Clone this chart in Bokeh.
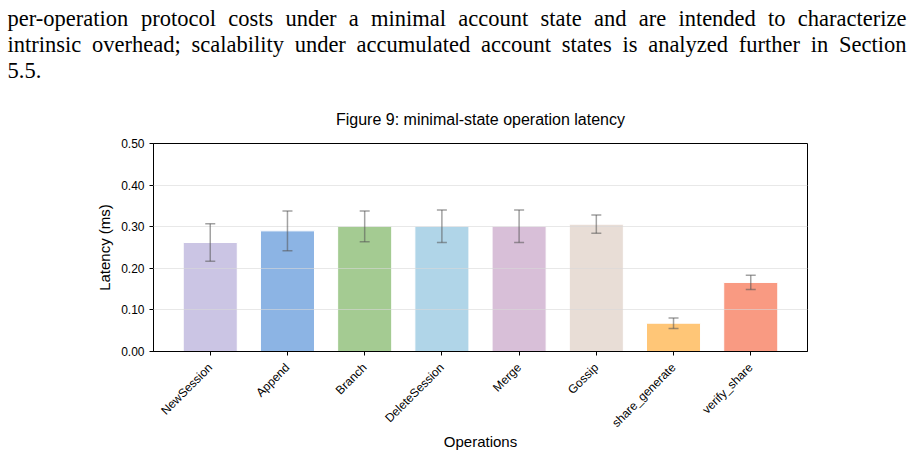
from math import pi

from bokeh.core.properties import value
from bokeh.embed import file_html
from bokeh.layouts import column
from bokeh.models import (ColumnDataSource, FixedTicker, NumeralTickFormatter,
                          Range1d, TeeHead, Whisker)
from bokeh.plotting import figure
from bokeh.resources import INLINE

# --- data -------------------------------------------------------------------
operations = ["NewSession", "Append", "Branch", "DeleteSession",
              "Merge", "Gossip", "share_generate", "verify_share"]
latency_ms = [0.262, 0.290, 0.301, 0.301, 0.301, 0.306, 0.068, 0.166]
latency_err = [0.045, 0.048, 0.037, 0.039, 0.039, 0.022, 0.0125, 0.017]
bar_colors = ["#CBC5E4", "#8CB4E4", "#A4CB92", "#B0D5E8",
              "#D8BFD8", "#E8DDD6", "#FFC677", "#F99A82"]
y_ticks = [0.0, 0.1, 0.2, 0.3, 0.4, 0.5]
chart_title = "Figure 9: minimal-state operation latency"

# surrounding paper text; the first two lines are fully justified
para_lines = [
    "per-operation protocol costs under a minimal account state and are intended to characterize",
    "intrinsic overhead; scalability under accumulated account states is analyzed further in Section",
    "5.5.",
]
para_justified = [True, True, False]
para_baseline = [18, 44, 70]
title_baseline = 119

# --- layout -----------------------------------------------------------------
W, H = 914, 456
HEAD_H = 135                      # strip holding paragraph + chart title
FRAME_L, FRAME_R, FRAME_T, FRAME_B = 153, 807, 143, 351
TEXT_L, TEXT_R = 7, 906
SERIF_PX = 22.5
sans = "Liberation Sans"

# advance widths of the serif face (1/1000 em), used to justify the lines
SERIF_W = dict(zip("abcdefghijklmnopqrstuvwxyz",
                   [444, 500, 444, 500, 444, 333, 500, 500, 278, 278, 500, 278, 778,
                    500, 500, 500, 500, 333, 389, 278, 500, 500, 722, 500, 500, 444]))
SERIF_W.update({"-": 333, ";": 278, ".": 250, "5": 500, "S": 556})
SPACE_W = 250


def word_width(word):
    return sum(SERIF_W.get(ch, 500) for ch in word) * SERIF_PX / 1000


words, wxs, wys = [], [], []
for line, justify, base in zip(para_lines, para_justified, para_baseline):
    toks = line.split(" ")
    widths = [word_width(t) for t in toks]
    if justify and len(toks) > 1:
        gap = (TEXT_R - TEXT_L - sum(widths)) / (len(toks) - 1)
    else:
        gap = SPACE_W * SERIF_PX / 1000
    cur = TEXT_L
    for t, w in zip(toks, widths):
        words.append(t)
        wxs.append(cur)
        wys.append(base)
        cur += w + gap

# header strip: paragraph words and the chart title, in pixel coordinates
head = figure(width=W, height=HEAD_H, output_backend="svg", toolbar_location=None,
              x_range=Range1d(0, W), y_range=Range1d(HEAD_H, 0),
              min_border=0, x_axis_type=None, y_axis_type=None)
head.title = None
head.frame_align = False
head.outline_line_color = None
head.grid.grid_line_color = None
head.text(x=wxs, y=wys, text=words, text_font=value("Liberation Serif"),
          text_font_size=f"{SERIF_PX}px", text_align="left", text_baseline="alphabetic",
          text_color="black")
head.text(x=[(FRAME_L + FRAME_R) / 2], y=[title_baseline], text=[chart_title],
          text_font=value(sans), text_font_size="16px", text_align="center",
          text_baseline="alphabetic", text_color="black")

# bar chart
x = list(range(len(operations)))
src = ColumnDataSource(dict(
    x=x,
    top=latency_ms,
    upper=[m + e for m, e in zip(latency_ms, latency_err)],
    lower=[m - e for m, e in zip(latency_ms, latency_err)],
    color=bar_colors,
))

p = figure(width=W, height=H - HEAD_H, output_backend="svg", toolbar_location=None,
           x_range=Range1d(-0.735, len(operations) - 1 + 0.735),
           y_range=Range1d(0, 0.5),
           min_border_left=FRAME_L, min_border_right=W - FRAME_R,
           min_border_top=FRAME_T - HEAD_H, min_border_bottom=H - FRAME_B)
p.frame_align = False
p.background_fill_color = "white"
p.border_fill_color = "white"
p.outline_line_color = "black"
p.outline_line_width = 1

p.vbar(x="x", top="top", width=0.7, bottom=0, source=src,
       fill_color="color", line_color="white", line_width=1)

head_style = dict(size=10, line_color="#555555", line_alpha=0.55, line_width=1.5)
err = Whisker(base="x", upper="upper", lower="lower", source=src,
              line_color="#555555", line_alpha=0.55, line_width=1.5,
              upper_head=TeeHead(**head_style), lower_head=TeeHead(**head_style),
              level="overlay")
p.add_layout(err)

# axes
p.xaxis.ticker = FixedTicker(ticks=x)
p.xaxis.major_label_overrides = {i: name for i, name in enumerate(operations)}
p.xaxis.major_label_orientation = pi / 4
p.xaxis.axis_label = "Operations"
p.yaxis.ticker = FixedTicker(ticks=y_ticks)
p.yaxis.formatter = NumeralTickFormatter(format="0.00")
p.yaxis.axis_label = "Latency (ms)"
for ax in (p.xaxis, p.yaxis):
    ax.axis_line_color = "black"
    ax.axis_line_width = 1
    ax.major_tick_line_color = "black"
    ax.major_tick_out = 4
    ax.major_tick_in = 0
    ax.minor_tick_line_color = None
    ax.major_label_text_font = sans
    ax.major_label_text_font_size = "12px"
    ax.major_label_text_color = "black"
    ax.axis_label_text_font = sans
    ax.axis_label_text_font_size = "15px"
    ax.axis_label_text_font_style = "normal"
    ax.axis_label_text_color = "black"
p.xaxis.major_label_standoff = 10
p.yaxis.major_label_standoff = 5
p.xaxis.axis_label_standoff = -5

p.xgrid.grid_line_color = None
p.ygrid.grid_line_color = "#d8d8d8"
p.ygrid.grid_line_alpha = 0.6
p.ygrid.level = "annotation"

layout = column(head, p, spacing=0)
open("out.html", "w").write(file_html(layout, INLINE))
